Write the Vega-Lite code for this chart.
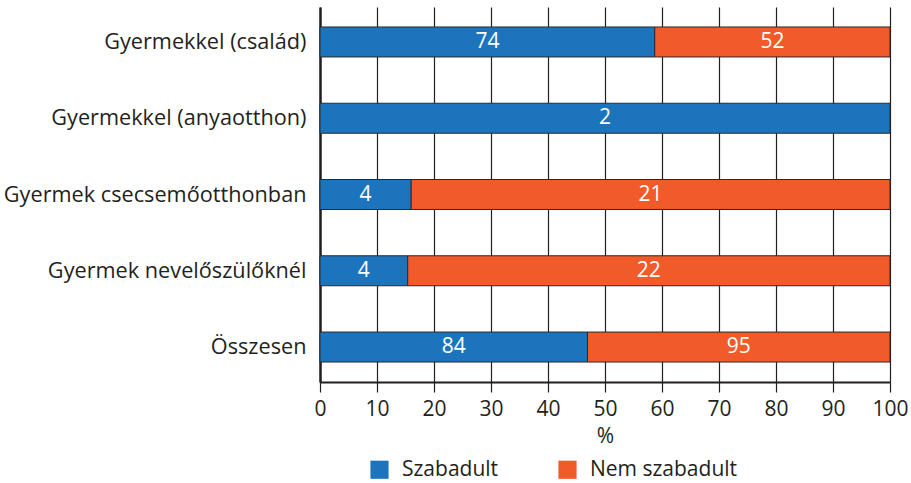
{
  "$schema": "https://vega.github.io/schema/vega-lite/v6.json",
  "width": 570,
  "height": 375,
  "autosize": {"type": "none"},
  "padding": {"left": 320, "top": 7, "right": 21, "bottom": 101},
  "background": "white",
  "config": {
    "view": {"stroke": null},
    "font": "Open Sans",
    "axis": {"labelFont": "Open Sans", "titleFont": "Open Sans", "labelColor": "#231f20", "titleColor": "#231f20"},
    "legend": {"labelFont": "Open Sans"}
  },
  "data": {
    "values": [
      {"kategoria": "Gyermekkel (család)", "csoport": "Szabadult", "fo": 74},
      {"kategoria": "Gyermekkel (család)", "csoport": "Nem szabadult", "fo": 52},
      {"kategoria": "Gyermekkel (anyaotthon)", "csoport": "Szabadult", "fo": 2},
      {"kategoria": "Gyermek csecsemőotthonban", "csoport": "Szabadult", "fo": 4},
      {"kategoria": "Gyermek csecsemőotthonban", "csoport": "Nem szabadult", "fo": 21},
      {"kategoria": "Gyermek nevelőszülőknél", "csoport": "Szabadult", "fo": 4},
      {"kategoria": "Gyermek nevelőszülőknél", "csoport": "Nem szabadult", "fo": 22},
      {"kategoria": "Összesen", "csoport": "Szabadult", "fo": 84},
      {"kategoria": "Összesen", "csoport": "Nem szabadult", "fo": 95}
    ]
  },
  "encoding": {
    "y": {
      "field": "kategoria",
      "type": "nominal",
      "sort": ["Gyermekkel (család)", "Gyermekkel (anyaotthon)", "Gyermek csecsemőotthonban", "Gyermek nevelőszülőknél", "Összesen"],
      "scale": {"paddingInner": 0.607, "paddingOuter": 0.262},
      "axis": {"title": null, "ticks": false, "domainColor": "#231f20", "domainWidth": 2.5, "labelFontSize": 21.7, "labelPadding": 14, "labelLimit": 0, "labelColor": "#231f20"}
    },
    "order": {"field": "csoport", "sort": "descending"}
  },
  "layer": [
    {
      "mark": {"type": "bar", "stroke": "#2a2a2a", "strokeWidth": 1},
      "encoding": {
        "x": {
          "field": "fo",
          "type": "quantitative",
          "stack": "normalize",
          "scale": {"domain": [0, 1], "nice": false},
          "axis": {
            "title": "%", "titleFontSize": 21, "titleFontWeight": "normal", "titlePadding": 6,
            "values": [0, 0.1, 0.2, 0.3, 0.4, 0.5, 0.6, 0.7, 0.8, 0.9, 1],
            "labelExpr": "format(datum.value * 100, 'd')",
            "labelFontSize": 21, "labelPadding": 6, "labelFlush": false, "labelOverlap": false,
            "grid": true, "gridColor": "#231f20", "gridWidth": 1.2, "gridOpacity": 1,
            "domainColor": "#231f20", "domainWidth": 2,
            "tickColor": "#231f20", "tickSize": 10, "tickWidth": 1.2
          }
        },
        "color": {
          "field": "csoport",
          "type": "nominal",
          "scale": {"domain": ["Szabadult", "Nem szabadult"], "range": ["#1c75bc", "#f15a29"]},
          "legend": {
            "title": null, "orient": "none", "direction": "horizontal",
            "legendX": 49, "legendY": 452,
            "symbolType": "square", "symbolSize": 330, "symbolStrokeWidth": 0,
            "labelFontSize": 21, "labelColor": "#231f20", "labelOffset": 12,
            "columnPadding": 58, "symbolOpacity": 1
          }
        }
      }
    },
    {
      "mark": {"type": "text", "color": "white", "fontSize": 21, "baseline": "middle", "align": "center"},
      "encoding": {
        "x": {"field": "fo", "type": "quantitative", "stack": "normalize", "bandPosition": 0.5},
        "text": {"field": "fo", "type": "quantitative"}
      }
    }
  ]
}
